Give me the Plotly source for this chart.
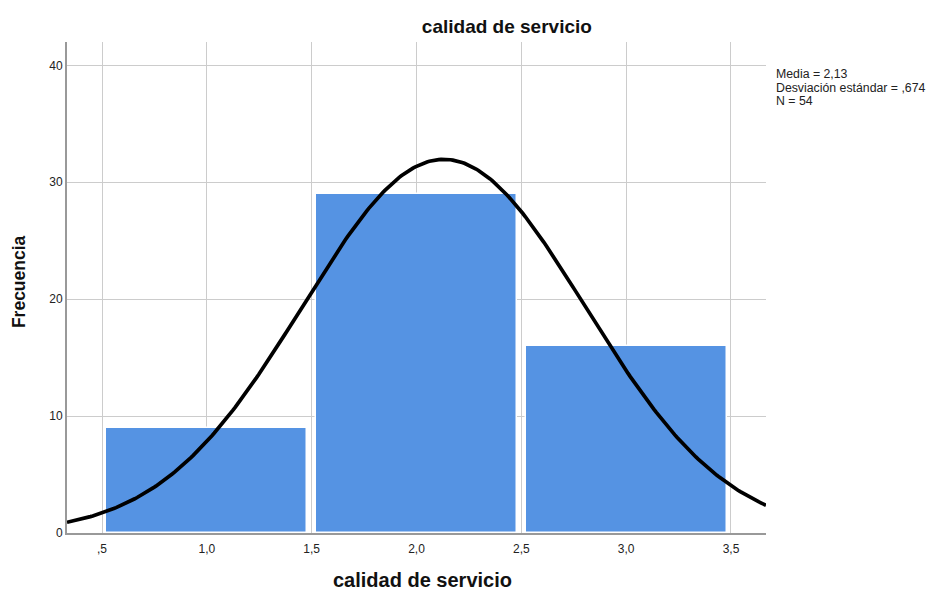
import numpy as np
import plotly.graph_objects as go

# Data
bin_centers = [1.0, 2.0, 3.0]
frequencies = [9, 29, 16]
bin_width = 1.0
mean_val = 2.13
sd_val = 0.674
n_val = 54

x_tickvals = [0.5, 1.0, 1.5, 2.0, 2.5, 3.0, 3.5]
x_ticktext = [",5", "1,0", "1,5", "2,0", "2,5", "3,0", "3,5"]
y_tickvals = [0, 10, 20, 30, 40]
y_ticktext = ["0", "10", "20", "30", "40"]
stats_lines = ["Media = 2,13", "Desviación estándar = ,674", "N = 54"]

x_range = [0.333, 3.667]
y_range = [0, 42]

# Normal curve scaled to the histogram
xc = np.linspace(x_range[0], x_range[1], 300)
yc = n_val * bin_width * np.exp(-0.5 * ((xc - mean_val) / sd_val) ** 2) / (sd_val * np.sqrt(2 * np.pi))

fig = go.Figure()
fig.add_trace(go.Bar(
    x=bin_centers, y=frequencies, width=0.96,
    marker=dict(color="#5593e3", line=dict(color="white", width=1.5)),
    showlegend=False, hoverinfo="x+y",
))
fig.add_trace(go.Scatter(
    x=xc, y=yc, mode="lines", line=dict(color="black", width=3.7),
    showlegend=False, hoverinfo="skip",
))

font_family = "Liberation Sans, Arial, sans-serif"
annotations = [
    dict(text="<b>calidad de servicio</b>", xref="paper", yref="paper",
         x=0.508, y=-0.0957, xanchor="center", yanchor="middle", showarrow=False,
         font=dict(size=20, color="#111")),
    dict(text="<b>Frecuencia</b>", xref="paper", yref="paper",
         x=-0.0687, y=0.513, xanchor="center", yanchor="middle", textangle=-90,
         showarrow=False, font=dict(size=17.5, color="#111")),
]
for i, line in enumerate(stats_lines):
    annotations.append(dict(
        text=line, xref="paper", yref="paper", x=1.0115, y=0.9348 - i * 0.0275,
        xanchor="left", yanchor="middle", align="left", showarrow=False,
        font=dict(size=12.3, color="#222")))

fig.update_layout(
    width=929, height=582,
    margin=dict(l=59, r=171, t=34, b=57),
    paper_bgcolor="white", plot_bgcolor="white",
    font=dict(family=font_family, size=12, color="#222"),
    bargap=0,
    title=dict(text="<b>calidad de servicio</b>", x=0.537, xanchor="center",
               y=0.969, yanchor="middle", font=dict(size=19, color="#111")),
    xaxis=dict(range=x_range, tickvals=x_tickvals, ticktext=x_ticktext,
               showgrid=True, gridcolor="#cccccc", gridwidth=1.2,
               showline=True, linecolor="#999999", linewidth=2,
               ticks="", zeroline=False, ticklabelstandoff=4,
               tickfont=dict(size=12, color="#222")),
    yaxis=dict(range=y_range, tickvals=y_tickvals, ticktext=y_ticktext,
               showgrid=True, gridcolor="#cccccc", gridwidth=1.2,
               showline=True, linecolor="#999999", linewidth=2,
               ticks="", zeroline=False, tickfont=dict(size=12, color="#222")),
    annotations=annotations,
)

fig.write_html("out.html")
